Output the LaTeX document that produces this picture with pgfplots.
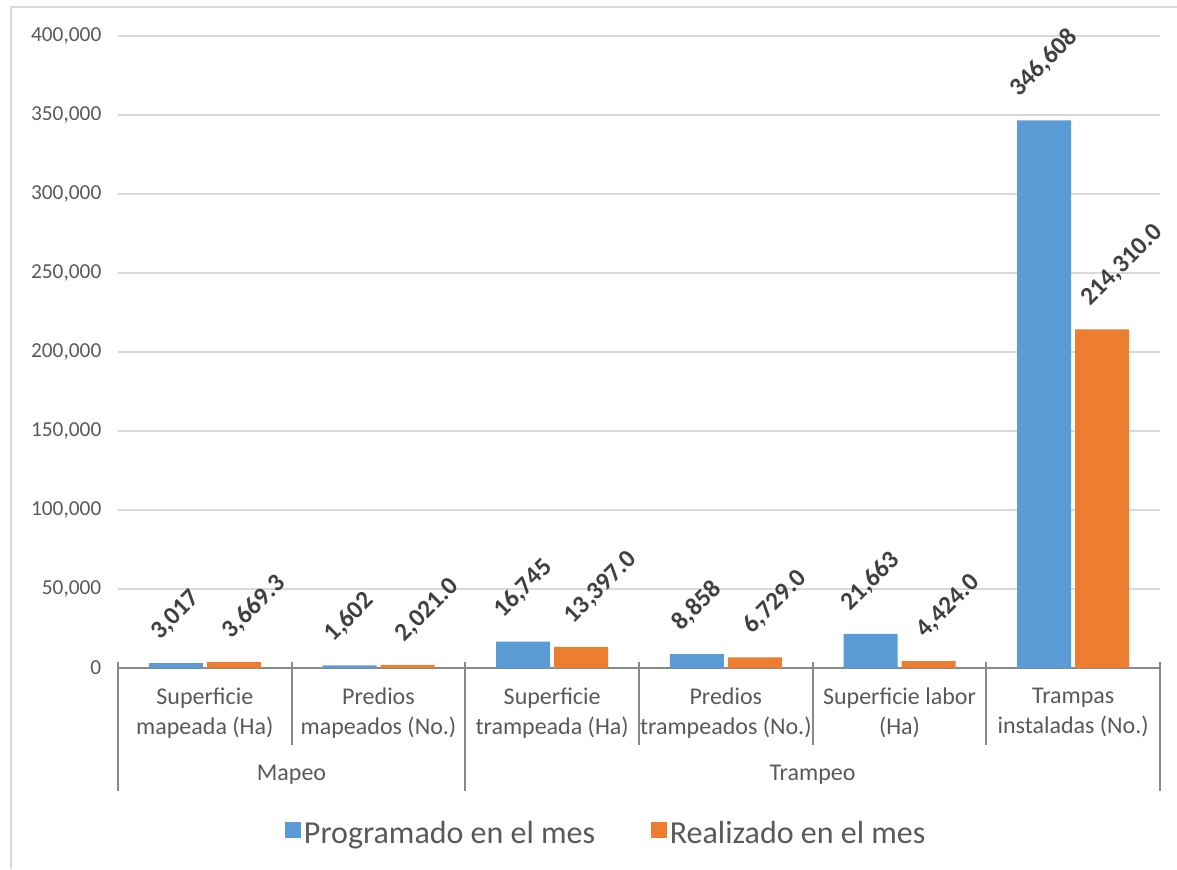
\documentclass[border=0pt]{standalone}
\usepackage{fontspec}
\setmainfont{Carlito}
\usepackage{graphicx}
\usepackage{pgfplots}
\pgfplotsset{compat=1.18}
\definecolor{cblue}{HTML}{5B9BD5}
\definecolor{corange}{HTML}{ED7D31}
\definecolor{tgray}{HTML}{595959}
\definecolor{lgray}{HTML}{404040}
\definecolor{gridc}{HTML}{D9D9D9}
\definecolor{axgray}{HTML}{898989}
\pgfkeys{/pgf/number format/assume math mode=true}
\pgfplotsset{
  sqleg/.style={legend image code/.code={\fill[##1] (-3pt,-4pt) rectangle (9pt,8pt);}},
}
\begin{document}
\begin{tikzpicture}[x=0.75pt,y=0.75pt]
\useasboundingbox (0,0) rectangle (1177,869);
\draw[gridc, line width=1.2pt] (11,0) -- (11,862) -- (1177,862);
\begin{axis}[
  at={(88.5pt,150.75pt)}, anchor=south west,
  scale only axis, width=781.5pt, height=474pt,
  xmin=-0.5, xmax=5.5, ymin=0, ymax=400000,
  clip=false,
  ybar=3pt, bar width=40.5pt,
  xtick={0,1,2,3,4,5},
  xticklabels={{Superficie\\mapeada (Ha)},{Predios\\mapeados (No.)},{Superficie\\trampeada (Ha)},{Predios\\trampeados (No.)},{Superficie labor\\(Ha)},{Trampas\\instaladas (No.)}},
  xticklabel style={align=center, font=\fontsize{18}{22.5}\selectfont, text=tgray, inner sep=0pt, yshift=-15pt},
  ytick={0,50000,100000,150000,200000,250000,300000,350000,400000},
  scaled y ticks=false,
  yticklabel style={/pgf/number format/.cd, fixed, 1000 sep={,}, /tikz/.cd, font=\fontsize{16}{19}\selectfont, text=tgray, xshift=-9pt},
  major tick length=0pt,
  ymajorgrids, grid style={gridc, line width=1.1pt},
  axis x line*=bottom, axis y line*=left,
  y axis line style={draw=none},
  x axis line style={axgray, line width=1.5pt},
  legend style={at={(0.469,-0.261)}, anchor=center, draw=none, fill=none, legend columns=2,
    font=\fontsize{24}{28}\selectfont, text=tgray,
    /tikz/every even column/.append style={column sep=40pt}},
]
\addplot[fill=cblue, draw=none, sqleg,
  nodes near coords={\rotatebox{45}{\pgfmathprintnumber[fixed, precision=0, 1000 sep={,}]{\pgfplotspointmeta}}},
  every node near coord/.append style={font=\bfseries\fontsize{19}{22}\selectfont, text=lgray, inner sep=0pt, anchor=south, xshift=0pt, yshift=15pt}]
  coordinates {(0,3017) (1,1602) (2,16745) (3,8858) (4,21663) (5,346608)};
\addlegendentry{Programado en el mes}
\addplot[fill=corange, draw=none, sqleg,
  nodes near coords={\rotatebox{45}{\pgfmathprintnumber[fixed, fixed zerofill, precision=1, 1000 sep={,}]{\pgfplotspointmeta}}},
  every node near coord/.append style={font=\bfseries\fontsize{19}{22}\selectfont, text=lgray, inner sep=0pt, anchor=south, xshift=15pt, yshift=15pt}]
  coordinates {(0,3669.3) (1,2021.0) (2,13397.0) (3,6729.0) (4,4424.0) (5,214310.0)};
\addlegendentry{Realizado en el mes}
\end{axis}
% multi-level category axis dividers
\foreach \xx in {291.7,638.8,812.5,986.2} {\draw[axgray, line width=1.5pt] (\xx,{869-662}) -- (\xx,{869-745});}
\foreach \xx in {118,465,1160} {\draw[axgray, line width=1.5pt] (\xx,{869-662}) -- (\xx,{869-791});}
\node[font=\fontsize{18}{21}\selectfont, text=tgray] at (291.5,{869-775}) {Mapeo};
\node[font=\fontsize{18}{21}\selectfont, text=tgray] at (812.5,{869-775}) {Trampeo};
\end{tikzpicture}
\end{document}
